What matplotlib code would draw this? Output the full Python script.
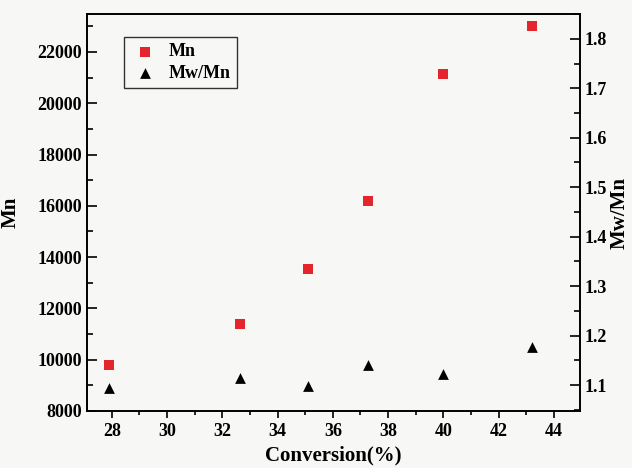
import matplotlib.pyplot as plt
from matplotlib.ticker import MultipleLocator

### data
conversion = [27.9, 32.65, 35.1, 37.27, 40.0, 43.2]
mn = [9800, 11400, 13550, 16170, 21150, 23030]
pdi = [1.093, 1.114, 1.099, 1.140, 1.122, 1.176]

plt.rcParams['font.family'] = 'Liberation Serif'
plt.rcParams['font.weight'] = 'bold'
plt.rcParams['axes.labelweight'] = 'bold'

bg = '#f7f7f5'
fig, ax = plt.subplots(figsize=(6.32, 4.68), dpi=100)
fig.patch.set_facecolor(bg)
ax.set_facecolor(bg)
fig.subplots_adjust(left=0.1377, right=0.9177, top=0.970, bottom=0.1218)

ax2 = ax.twinx()

h1 = ax.scatter(conversion, mn, marker='s', s=45, color='#e3262b', linewidths=0, label='Mn', zorder=3)
h2 = ax2.scatter(conversion, pdi, marker='^', s=60, color='black', linewidths=0, label='Mw/Mn', zorder=3)

ax.set_xlim(27.1, 44.95)
ax.set_ylim(8000, 23480)
ax2.set_ylim(1.0475, 1.85)

ax.xaxis.set_major_locator(MultipleLocator(2))
ax.xaxis.set_minor_locator(MultipleLocator(1))
ax.yaxis.set_major_locator(MultipleLocator(2000))
ax.yaxis.set_minor_locator(MultipleLocator(1000))
ax2.yaxis.set_major_locator(MultipleLocator(0.1))
ax2.yaxis.set_minor_locator(MultipleLocator(0.05))

ax.tick_params(axis='x', which='both', direction='out', labelsize=13, width=1.2)
ax.tick_params(axis='x', which='major', length=5)
ax.tick_params(axis='x', which='minor', length=3)
ax.tick_params(axis='y', which='both', direction='in', labelsize=13, width=1.2)
ax.tick_params(axis='y', which='major', length=7)
ax.tick_params(axis='y', which='minor', length=4)
ax2.tick_params(axis='y', which='both', direction='in', labelsize=13, width=1.2)
ax2.tick_params(axis='y', which='major', length=7)
ax2.tick_params(axis='y', which='minor', length=4)

for a in (ax, ax2):
    for sp in a.spines.values():
        sp.set_linewidth(1.2)

ax.set_xlabel('Conversion(%)', fontsize=15, labelpad=4)
ax.set_ylabel('Mn', fontsize=15)
ax2.set_ylabel('Mw/Mn', fontsize=15)
ax.yaxis.set_label_coords(-0.135, 0.5)
ax2.yaxis.set_label_coords(1.06, 0.5)
ax2.yaxis.label.set_rotation(90)

leg = ax.legend(handles=[h1, h2], loc='upper left', bbox_to_anchor=(0.075, 0.942),
                borderaxespad=0, fancybox=False, edgecolor='#333333', fontsize=13,
                facecolor=bg, framealpha=1, handletextpad=0.5, borderpad=0.35,
                labelspacing=0.25, handlelength=1.6)
leg.get_frame().set_linewidth(1.0)

fig.savefig('out.png', dpi=100, facecolor=bg)
